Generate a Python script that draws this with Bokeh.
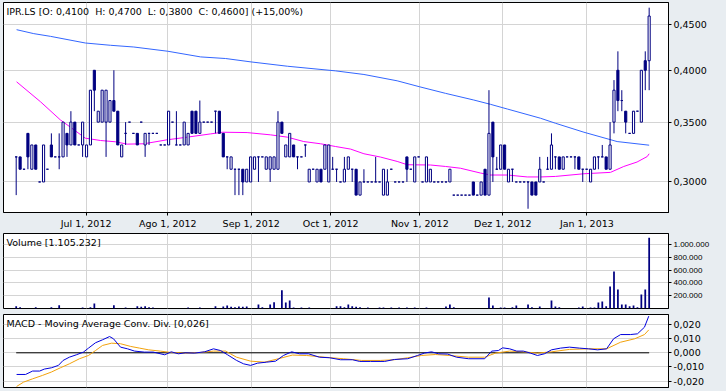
from bokeh.plotting import figure
from bokeh.models import Range1d, FixedTicker, CustomJSTickFormatter, Label
from bokeh.layouts import column
from bokeh.embed import file_html
from bokeh.resources import INLINE

# ---------------- data (one entry per trading day, index 0..162) ----------------
opens = [0.32,0.32,0.31,0.34,0.31,0.33,0.30,0.30,0.31,0.33,
         0.32,0.32,0.32,0.34,0.33,0.35,0.33,0.33,0.32,0.33,
         0.40,0.35,0.35,0.35,0.35,0.37,0.36,0.32,0.34,0.35,
         0.34,0.34,0.35,0.33,0.34,0.34,0.34,0.33,0.33,0.33,
         0.35,0.33,0.33,0.33,0.33,0.36,0.36,0.34,0.35,0.35,
         0.35,0.36,0.36,0.34,0.32,0.31,0.31,0.31,0.31,0.30,
         0.30,0.31,0.32,0.32,0.31,0.31,0.31,0.31,0.35,0.32,
         0.32,0.33,0.32,0.32,0.33,0.30,0.31,0.30,0.31,0.31,
         0.30,0.31,0.31,0.30,0.30,0.31,0.31,0.31,0.29,0.30,
         0.30,0.30,0.30,0.30,0.29,0.29,0.31,0.30,0.30,0.30,
         0.32,0.31,0.30,0.32,0.30,0.30,0.30,0.30,0.30,0.30,
         0.30,0.30,0.29,0.29,0.29,0.29,0.29,0.30,0.29,0.29,
         0.31,0.29,0.35,0.31,0.31,0.33,0.30,0.31,0.30,0.30,
         0.30,0.30,0.30,0.30,0.30,0.30,0.31,0.31,0.32,0.32,
         0.31,0.32,0.32,0.32,0.32,0.31,0.31,0.30,0.31,0.32,
         0.32,0.32,0.31,0.35,0.40,0.37,0.36,0.34,0.34,0.36,
         0.35,0.41,0.41]
highs = [0.32,0.32,0.31,0.34,0.33,0.33,0.30,0.33,0.31,0.34,
         0.32,0.34,0.35,0.34,0.36,0.35,0.33,0.35,0.33,0.38,
         0.40,0.36,0.38,0.38,0.37,0.40,0.36,0.33,0.35,0.35,
         0.34,0.34,0.35,0.34,0.34,0.34,0.34,0.33,0.33,0.36,
         0.35,0.36,0.33,0.35,0.34,0.36,0.36,0.37,0.35,0.35,
         0.35,0.36,0.36,0.34,0.32,0.32,0.31,0.31,0.31,0.31,
         0.32,0.32,0.32,0.32,0.32,0.32,0.32,0.36,0.35,0.33,
         0.34,0.33,0.32,0.32,0.33,0.31,0.31,0.31,0.31,0.33,
         0.33,0.32,0.31,0.30,0.32,0.32,0.31,0.31,0.30,0.31,
         0.30,0.30,0.32,0.30,0.31,0.31,0.31,0.30,0.30,0.30,
         0.32,0.31,0.32,0.32,0.30,0.32,0.31,0.30,0.30,0.30,
         0.30,0.31,0.29,0.29,0.29,0.29,0.29,0.30,0.29,0.30,
         0.31,0.38,0.35,0.32,0.33,0.33,0.31,0.31,0.30,0.30,
         0.30,0.30,0.30,0.30,0.32,0.30,0.32,0.34,0.32,0.32,
         0.32,0.32,0.32,0.32,0.32,0.31,0.31,0.31,0.32,0.32,
         0.33,0.32,0.35,0.39,0.42,0.38,0.36,0.34,0.36,0.36,
         0.40,0.42,0.47]
lows = [0.29,0.31,0.31,0.31,0.31,0.31,0.30,0.30,0.31,0.32,
        0.32,0.31,0.32,0.32,0.33,0.33,0.33,0.32,0.32,0.33,
        0.36,0.35,0.35,0.32,0.35,0.36,0.33,0.32,0.33,0.35,
        0.34,0.33,0.35,0.32,0.33,0.34,0.34,0.33,0.33,0.33,
        0.35,0.33,0.33,0.33,0.33,0.34,0.34,0.34,0.35,0.35,
        0.35,0.34,0.34,0.32,0.31,0.31,0.29,0.29,0.29,0.30,
        0.30,0.31,0.30,0.32,0.31,0.30,0.31,0.31,0.34,0.32,
        0.32,0.32,0.31,0.32,0.32,0.30,0.31,0.30,0.30,0.31,
        0.30,0.31,0.30,0.30,0.30,0.31,0.30,0.29,0.29,0.30,
        0.30,0.30,0.30,0.30,0.29,0.29,0.31,0.30,0.30,0.30,
        0.30,0.31,0.30,0.32,0.30,0.30,0.30,0.30,0.30,0.30,
        0.30,0.30,0.29,0.29,0.29,0.29,0.29,0.29,0.29,0.29,
        0.29,0.29,0.30,0.31,0.31,0.31,0.30,0.30,0.30,0.30,
        0.30,0.28,0.29,0.29,0.30,0.30,0.31,0.31,0.31,0.31,
        0.31,0.32,0.32,0.31,0.31,0.30,0.31,0.30,0.31,0.31,
        0.32,0.31,0.31,0.34,0.36,0.36,0.34,0.34,0.34,0.36,
        0.35,0.38,0.38]
closes = [0.32,0.31,0.31,0.32,0.33,0.31,0.30,0.33,0.31,0.32,
          0.32,0.32,0.35,0.33,0.35,0.33,0.33,0.35,0.33,0.38,
          0.38,0.36,0.38,0.38,0.37,0.36,0.33,0.33,0.34,0.35,
          0.34,0.33,0.35,0.34,0.34,0.34,0.34,0.33,0.33,0.36,
          0.35,0.33,0.33,0.35,0.34,0.34,0.34,0.35,0.35,0.35,
          0.35,0.36,0.34,0.32,0.32,0.32,0.31,0.31,0.30,0.31,
          0.32,0.32,0.32,0.32,0.32,0.32,0.32,0.35,0.34,0.33,
          0.34,0.32,0.32,0.32,0.33,0.31,0.31,0.31,0.30,0.33,
          0.33,0.31,0.31,0.30,0.31,0.32,0.31,0.29,0.30,0.30,
          0.30,0.30,0.30,0.30,0.31,0.30,0.31,0.30,0.30,0.30,
          0.31,0.31,0.32,0.32,0.30,0.32,0.31,0.30,0.30,0.30,
          0.30,0.31,0.29,0.29,0.29,0.29,0.29,0.29,0.29,0.30,
          0.29,0.34,0.32,0.31,0.33,0.31,0.31,0.31,0.30,0.30,
          0.30,0.30,0.29,0.29,0.31,0.30,0.31,0.33,0.32,0.31,
          0.32,0.32,0.32,0.32,0.31,0.31,0.31,0.31,0.32,0.32,
          0.32,0.31,0.33,0.38,0.37,0.37,0.35,0.34,0.36,0.36,
          0.40,0.40,0.46]

# moving averages (sampled along the curve: day index, price)
ma_long_day = [0.1, 4.5, 8.8, 17.7, 24.1, 30.1, 38.8, 47.2, 53.6, 60.1, 69.4, 81.7, 89.0,
               97.5, 103.3, 109.9, 117.1, 121.4, 125.7, 134.2, 138.0, 145.3, 153.8, 162.0]
ma_long_val = [0.4441, 0.4396, 0.4365, 0.4291, 0.4266, 0.4247, 0.4201, 0.4140, 0.4123, 0.4087,
               0.4042, 0.3994, 0.3957, 0.3893, 0.3833, 0.3769, 0.3705, 0.3664, 0.3620, 0.3535,
               0.3490, 0.3410, 0.3329, 0.3298]
ma_short_day = [0.1, 6.2, 11.3, 13.9, 17.7, 21.6, 25.4, 28.4, 32.7, 38.6, 43.8, 49.7, 52.8, 59.1,
                65.1, 69.4, 73.6, 77.9, 81.7, 85.6, 89.0, 93.2, 97.5, 100.1, 106.0, 109.9, 113.7,
                118.8, 121.4, 125.7, 130.8, 134.2, 138.0, 145.3, 152.1, 155.5, 158.9, 161.5, 162.0]
ma_short_val = [0.3883, 0.3689, 0.3520, 0.3454, 0.3358, 0.3338, 0.3327, 0.3307, 0.3310, 0.3344,
                0.3367, 0.3395, 0.3410, 0.3407, 0.3387, 0.3367, 0.3329, 0.3310, 0.3287, 0.3265,
                0.3226, 0.3199, 0.3163, 0.3136, 0.3134, 0.3122, 0.3108, 0.3070, 0.3054, 0.3054,
                0.3039, 0.3039, 0.3043, 0.3064, 0.3075, 0.3122, 0.3158, 0.3203, 0.3226]

# volume (days with a visible bar)
vol_day = [0, 1, 5, 9, 11, 17, 19, 20, 25, 28, 31, 32, 33, 34, 35, 44, 47, 51, 53, 54, 55, 56,
           57, 58, 59, 62, 63, 65, 66, 68, 69, 70, 71, 73, 75, 82, 83, 84, 85, 86, 87, 88, 90,
           93, 94, 96, 98, 100, 102, 105, 110, 111, 112, 121, 122, 124, 125, 127, 128, 131, 132,
           134, 137, 138, 139, 144, 145, 147, 148, 149, 150, 151, 152, 153, 154, 155, 156, 157,
           158, 159, 160, 161, 162]
vol_shares = [36000, 21000, 21000, 21000, 52000, 16000, 21000, 78000, 52000, 16000, 36000, 26000,
              36000, 21000, 16000, 16000, 16000, 36000, 31000, 47000, 26000, 21000, 31000, 26000,
              31000, 62000, 21000, 62000, 99000, 286000, 94000, 125000, 16000, 16000, 16000,
              36000, 36000, 21000, 62000, 36000, 26000, 21000, 16000, 16000, 16000, 16000, 16000,
              16000, 16000, 16000, 31000, 62000, 21000, 172000, 47000, 16000, 16000, 21000, 47000,
              62000, 21000, 31000, 125000, 31000, 21000, 16000, 31000, 16000, 16000, 94000,
              109000, 36000, 344000, 578000, 297000, 62000, 62000, 36000, 47000, 21000, 219000,
              297000, 1105232]

# MACD and signal (sampled along the curves: day index, value)
macd_day = [0.1, 2.4, 4.2, 6.0, 7.2, 9.0, 10.8, 12.0, 13.6, 15.4, 17.2, 18.5, 20.3, 22.1, 23.9,
            24.9, 26.7, 28.5, 30.3, 32.8, 35.1, 38.0, 39.7, 41.5, 43.3, 45.6, 48.2, 50.5, 52.3,
            54.1, 56.4, 58.2, 60.0, 61.8, 64.1, 66.4, 68.4, 70.5, 72.5, 74.8, 77.6, 80.2, 83.0,
            86.1, 87.9, 90.7, 94.3, 96.8, 100.2, 102.7, 104.5, 106.3, 108.1, 110.4, 112.7, 115.8,
            119.9, 121.7, 123.4, 124.5, 126.3, 128.1, 129.8, 131.6, 133.4, 135.2, 137.0, 139.3,
            141.6, 144.2, 146.5, 148.8, 151.1, 152.9, 154.7, 157.2, 159.0, 160.8, 161.9]
macd_val = [-0.0153, -0.0153, -0.0129, -0.0129, -0.0115, -0.0106, -0.0089, -0.0054, -0.0031,
            -0.0014, 0.0005, 0.0033, 0.0071, 0.0092, 0.0115, 0.0099, 0.0040, 0.0028, 0.0012,
            0.0005, 0.0005, -0.0014, 0.0007, -0.0007, 0.0000, -0.0002, 0.0007, 0.0028, 0.0016,
            -0.0014, -0.0054, -0.0078, -0.0089, -0.0073, -0.0066, -0.0059, -0.0019, 0.0007,
            -0.0007, -0.0007, -0.0031, -0.0035, -0.0049, -0.0049, -0.0061, -0.0061, -0.0061,
            -0.0047, -0.0042, -0.0019, -0.0002, 0.0007, -0.0007, -0.0009, -0.0031, -0.0042,
            -0.0042, 0.0012, 0.0016, 0.0035, 0.0028, 0.0012, 0.0012, -0.0002, -0.0019, -0.0007,
            0.0021, 0.0033, 0.0040, 0.0033, 0.0028, 0.0021, 0.0028, 0.0099, 0.0129, 0.0129,
            0.0134, 0.0181, 0.0259]
signal_day = [0.1, 1.9, 4.2, 6.7, 9.0, 11.3, 13.6, 16.2, 18.5, 20.3, 22.1, 24.4, 26.7, 29.3, 31.6,
              33.9, 36.9, 39.7, 43.3, 46.9, 50.5, 53.6, 56.4, 60.0, 63.6, 67.1, 70.7, 74.3, 78.9,
              83.8, 88.4, 93.2, 96.8, 100.2, 103.7, 107.3, 110.9, 115.8, 119.9, 122.7, 126.3,
              129.8, 133.4, 137.0, 141.6, 146.5, 151.1, 154.7, 158.3, 160.8, 161.9]
signal_val = [-0.0238, -0.0207, -0.0184, -0.0160, -0.0136, -0.0106, -0.0078, -0.0042, -0.0019,
              0.0016, 0.0052, 0.0068, 0.0064, 0.0045, 0.0033, 0.0021, 0.0012, 0.0002, -0.0002,
              0.0002, 0.0012, 0.0012, -0.0031, -0.0059, -0.0066, -0.0042, -0.0016, -0.0019,
              -0.0031, -0.0042, -0.0054, -0.0054, -0.0049, -0.0035, -0.0019, -0.0012, -0.0019,
              -0.0031, -0.0031, -0.0002, 0.0012, 0.0007, -0.0002, 0.0007, 0.0024, 0.0028,
              0.0028, 0.0075, 0.0099, 0.0129, 0.0162]

# month boundaries on the day axis
month_pos = [17.9, 38.8, 60.15, 80.5, 103.3, 124.55, 146.05]
month_labels = ["Jul 1, 2012", "Ago 1, 2012", "Sep 1, 2012", "Oct 1, 2012",
                "Nov 1, 2012", "Dez 1, 2012", "Jan 1, 2013"]

price_ticks = [0.30, 0.35, 0.40, 0.45]
volume_ticks = [200000, 400000, 600000, 800000, 1000000]
macd_ticks = [-0.02, -0.01, 0.0, 0.01, 0.02]

NBSP2 = "\u00a0\u00a0"
title_price = ("IPR.LS [O: 0,4100" + NBSP2 + "H: 0,4700" + NBSP2 + "L: 0,3800" + NBSP2 +
               "C: 0,4600] (+15,00%)")
title_volume = "Volume [1.105.232]"
title_macd = "MACD - Moving Average Conv. Div. [0,026]"

# ---------------- styling ----------------
BG = "#e8edf1"
GRID = "#d4d4d4"
NAVY = "#000080"
FONT = "DejaVu Sans"
FSIZE = "9.5px"
X0, X1 = -3.25, 166.95

xr = Range1d(X0, X1)
month_fmt = CustomJSTickFormatter(args=dict(pos=month_pos, lab=month_labels), code="""
    for (let k = 0; k < pos.length; k++) { if (Math.abs(pos[k] - tick) < 0.01) return lab[k]; }
    return '';
""")


def style(p, yticks, yfmt, yfont=FONT, ysize=FSIZE):
    p.background_fill_color = "white"
    p.border_fill_color = BG
    p.outline_line_color = "black"
    p.outline_line_width = 1
    p.xaxis.ticker = FixedTicker(ticks=month_pos)
    p.xgrid.ticker = FixedTicker(ticks=month_pos)
    p.xaxis.formatter = month_fmt
    p.yaxis.ticker = FixedTicker(ticks=yticks)
    p.ygrid.ticker = FixedTicker(ticks=yticks)
    p.yaxis.formatter = yfmt
    for ax in (p.xaxis, p.yaxis):
        ax.axis_line_color = "black"
        ax.major_tick_line_color = "black"
        ax.major_tick_out = 3
        ax.major_tick_in = 0
        ax.minor_tick_line_color = None
        ax.major_label_text_color = "black"
        ax.major_label_standoff = 2
    p.xaxis.major_label_text_font = FONT
    p.xaxis.major_label_text_font_size = FSIZE
    p.yaxis.major_label_text_font = yfont
    p.yaxis.major_label_text_font_size = ysize
    p.xgrid.grid_line_color = GRID
    p.ygrid.grid_line_color = GRID
    p.toolbar.logo = None


def add_title(p, text, ytop, yoff):
    p.add_layout(Label(x=X0, y=ytop, x_units="data", y_units="data", x_offset=3, y_offset=yoff,
                       text=text, text_font=FONT, text_font_size=FSIZE, text_color="black",
                       text_baseline="top", text_align="left"))


# ---- price panel ----
P_LO, P_HI = 0.2773, 0.4763
p1 = figure(width=726, height=231, x_range=xr, y_range=Range1d(P_LO, P_HI), y_axis_type="log",
            y_axis_location="right", output_backend="svg", toolbar_location=None,
            min_border_left=3, min_border_right=58, min_border_top=2, min_border_bottom=18)
style(p1, price_ticks, CustomJSTickFormatter(code="return tick.toFixed(4).replace('.', ',');"))

days = list(range(len(opens)))
p1.line(ma_long_day, ma_long_val, line_color="#3366ff", line_width=1)
p1.line(ma_short_day, ma_short_val, line_color="#ff00ff", line_width=1)
p1.segment(x0=days, y0=lows, x1=days, y1=highs, line_color=NAVY, line_width=1)

up = [i for i in days if closes[i] > opens[i]]
down = [i for i in days if closes[i] < opens[i]]
flat = [i for i in days if closes[i] == opens[i]]
BW = 0.55
p1.vbar(x=up, width=BW, top=[closes[i] for i in up], bottom=[opens[i] for i in up],
        fill_color="white", line_color=NAVY, line_width=1)
p1.vbar(x=down, width=BW, top=[opens[i] for i in down], bottom=[closes[i] for i in down],
        fill_color=NAVY, line_color=NAVY, line_width=1)
p1.vbar(x=flat, width=BW, top=[opens[i] for i in flat], bottom=[opens[i] for i in flat],
        fill_color=NAVY, line_color=NAVY, line_width=1)
add_title(p1, title_price, P_HI, -3)

# ---- volume panel ----
V_HI = 1172000
p2 = figure(width=726, height=80, x_range=xr, y_range=Range1d(0, V_HI), y_axis_location="right",
            output_backend="svg", toolbar_location=None,
            min_border_left=3, min_border_right=58, min_border_top=2, min_border_bottom=3)
style(p2, volume_ticks,
      CustomJSTickFormatter(code="return Math.round(tick).toString().replace(/\\B(?=(\\d{3})+(?!\\d))/g, '.');"),
      yfont="Liberation Sans", ysize="8px")
p2.xaxis.visible = False
p2.vbar(x=vol_day, width=0.45, top=vol_shares, bottom=0, fill_color=NAVY, line_color=None)
add_title(p2, title_volume, V_HI, -3)

# ---- MACD panel ----
M_LO, M_HI = -0.02452, 0.02707
p3 = figure(width=726, height=80, x_range=xr, y_range=Range1d(M_LO, M_HI), y_axis_location="right",
            output_backend="svg", toolbar_location=None,
            min_border_left=3, min_border_right=58, min_border_top=3, min_border_bottom=4)
style(p3, macd_ticks, CustomJSTickFormatter(code="return tick.toFixed(3).replace('.', ',');"))
p3.xaxis.visible = False
p3.line([days[0], days[-1]], [0, 0], line_color="black", line_width=1)
p3.line(signal_day, signal_val, line_color="#f2a20c", line_width=1)
p3.line(macd_day, macd_val, line_color="#0000dd", line_width=1)
add_title(p3, title_macd, M_HI, -3)

layout = column(p1, p2, p3, spacing=0, styles={"background-color": BG})
open("out.html", "w").write(file_html(layout, INLINE))
